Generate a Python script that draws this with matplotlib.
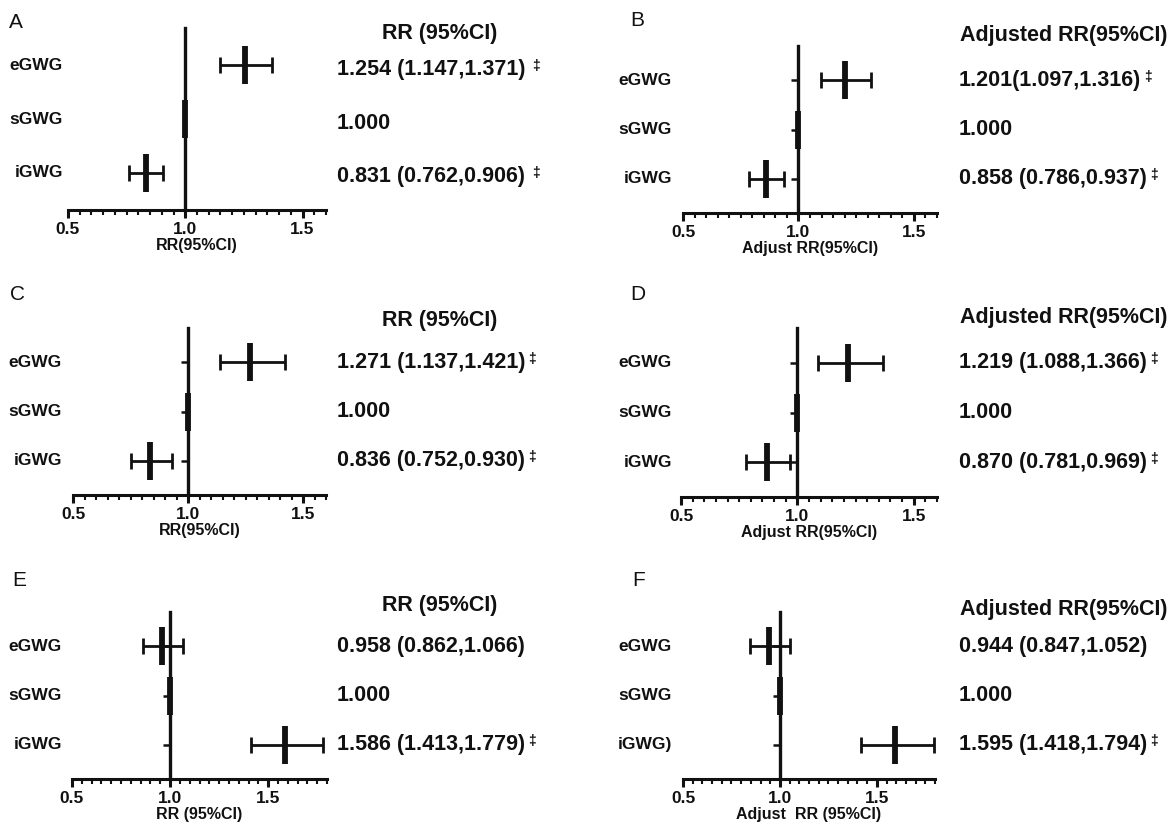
import matplotlib.pyplot as plt
from matplotlib.ticker import MultipleLocator

plt.rcParams['font.family'] = ['Liberation Sans', 'DejaVu Sans']
plt.rcParams['font.weight'] = 'bold'

W, H = 1175, 826

panels = ['A', 'B', 'C', 'D', 'E', 'F']
rows = [3, 2, 1]
groups = ['eGWG', 'sGWG', 'iGWG']
groups_f = ['eGWG', 'sGWG', 'iGWG)']

# estimates per panel (A..F)
est_e = [1.254, 1.201, 1.271, 1.219, 0.958, 0.944]
lo_e = [1.147, 1.097, 1.137, 1.088, 0.862, 0.847]
hi_e = [1.371, 1.316, 1.421, 1.366, 1.066, 1.052]
est_i = [0.831, 0.858, 0.836, 0.870, 1.586, 1.595]
lo_i = [0.762, 0.786, 0.752, 0.781, 1.413, 1.418]
hi_i = [0.906, 0.937, 0.930, 0.969, 1.779, 1.794]
sig_e = [True, True, True, True, False, False]
sig_i = [True, True, True, True, True, True]

headers = ['RR (95%CI)', 'Adjusted RR(95%CI)'] * 3
xlabels = ['RR(95%CI)', 'Adjust RR(95%CI)', 'RR(95%CI)',
           'Adjust RR(95%CI)', 'RR (95%CI)', 'Adjust  RR (95%CI)']
xmax = [1.6, 1.6, 1.6, 1.6, 1.8, 1.8]

# layout in pixels: left, right, top, bottom
boxes = [(68, 326, 28, 210), (683, 937, 46, 213),
         (73, 326, 328, 495), (681, 937, 328, 497),
         (72, 327, 612, 779), (683, 935, 612, 779)]
letter_pos = [(9, 23), (630, 20), (10, 295), (630, 294), (12, 580), (632, 580)]
header_pos = [(382, 33), (960, 35), (382, 320), (960, 318), (382, 605), (960, 609)]
text_x = [337, 959, 337, 959, 337, 959]
cat_x = [63, 672, 62, 672, 62, 672]


def fx(px):
    return px / W


def fy(py):
    return 1 - py / H


fig = plt.figure(figsize=(W / 100, H / 100), dpi=100)

for k, p in enumerate(panels):
    l, r, t, b = boxes[k]
    ax = fig.add_axes([fx(l), fy(b), fx(r) - fx(l), (b - t) / H])
    est = [est_e[k], 1.0, est_i[k]]
    lo = [lo_e[k], 1.0, lo_i[k]]
    hi = [hi_e[k], 1.0, hi_i[k]]
    sig = [sig_e[k], False, sig_i[k]]
    err = [[e - a for e, a in zip(est, lo)], [c - e for e, c in zip(est, hi)]]
    ax.errorbar(est, rows, xerr=err, fmt='none', ecolor='#111111',
                elinewidth=2.0, capsize=6, capthick=2.0, zorder=3)
    ax.plot(est, rows, ls='none', marker='|', ms=27, mew=4.2,
            color='#111111', zorder=4)

    ax.set_xlim(0.5, xmax[k])
    ax.set_ylim(0.3, 3.7)
    for s in ['top', 'right']:
        ax.spines[s].set_visible(False)
    ax.spines['left'].set_position(('data', 1.0))
    ax.spines['left'].set_linewidth(2.4)
    ax.spines['bottom'].set_linewidth(2.2)
    ax.spines['left'].set_color('#111111')
    ax.spines['bottom'].set_color('#111111')
    ax.spines['left'].set_zorder(2)

    ax.set_yticks(rows)
    ax.tick_params(axis='y', labelleft=False, length=0 if k == 0 else 5,
                   width=1.8, color='#111111')
    ax.xaxis.set_major_locator(MultipleLocator(0.5))
    ax.xaxis.set_minor_locator(MultipleLocator(0.05))
    ax.xaxis.set_major_formatter(plt.FuncFormatter(lambda v, pos: f'{v:.1f}'))
    ax.tick_params(axis='x', which='major', length=6, width=2.2,
                   labelsize=12.5, pad=2.5, color='#111111', labelcolor='#111111')
    ax.tick_params(axis='x', which='minor', length=3.5, width=1.5,
                   color='#111111')
    ax.set_xlabel(xlabels[k], fontsize=11.5, fontweight='bold', labelpad=1,
                  color='#111111')
    ax.patch.set_alpha(0)

    names = groups_f if p == 'F' else groups
    for name, y in zip(names, rows):
        ax.annotate(name, xy=(fx(cat_x[k]), y),
                    xycoords=('figure fraction', 'data'),
                    ha='right', va='center', fontsize=12.5,
                    fontweight='bold', color='#111111')

    for e, a, c, s, y in zip(est, lo, hi, sig, rows):
        if e == 1.0 and a == 1.0 and c == 1.0:
            txt = f'{e:.3f}'
        elif k == 1 and y == 3:
            txt = f'{e:.3f}({a:.3f},{c:.3f})'
        else:
            txt = f'{e:.3f} ({a:.3f},{c:.3f})'
        tobj = ax.annotate(txt, xy=(fx(text_x[k]), y),
                           xycoords=('figure fraction', 'data'),
                           xytext=(0, -3 if k == 0 else 0),
                           textcoords='offset points',
                           ha='left', va='center', fontsize=15.5,
                           fontweight='bold', color='#111111')
        if s:
            ax.annotate('‡', xy=(1, 1), xycoords=tobj,
                        xytext=(5 if k == 0 else 2, 0),
                        textcoords='offset points', ha='left', va='top',
                        fontsize=10, fontweight='bold', color='#111111')

    hx, hy = header_pos[k]
    fig.text(fx(hx), fy(hy), headers[k], ha='left', va='center',
             fontsize=15.5, fontweight='bold', color='#111111')
    lx, ly = letter_pos[k]
    fig.text(fx(lx), fy(ly), p, ha='left', va='center', fontsize=15,
             fontweight='normal', color='#111111')

fig.savefig('out.png', dpi=100, facecolor='white')
